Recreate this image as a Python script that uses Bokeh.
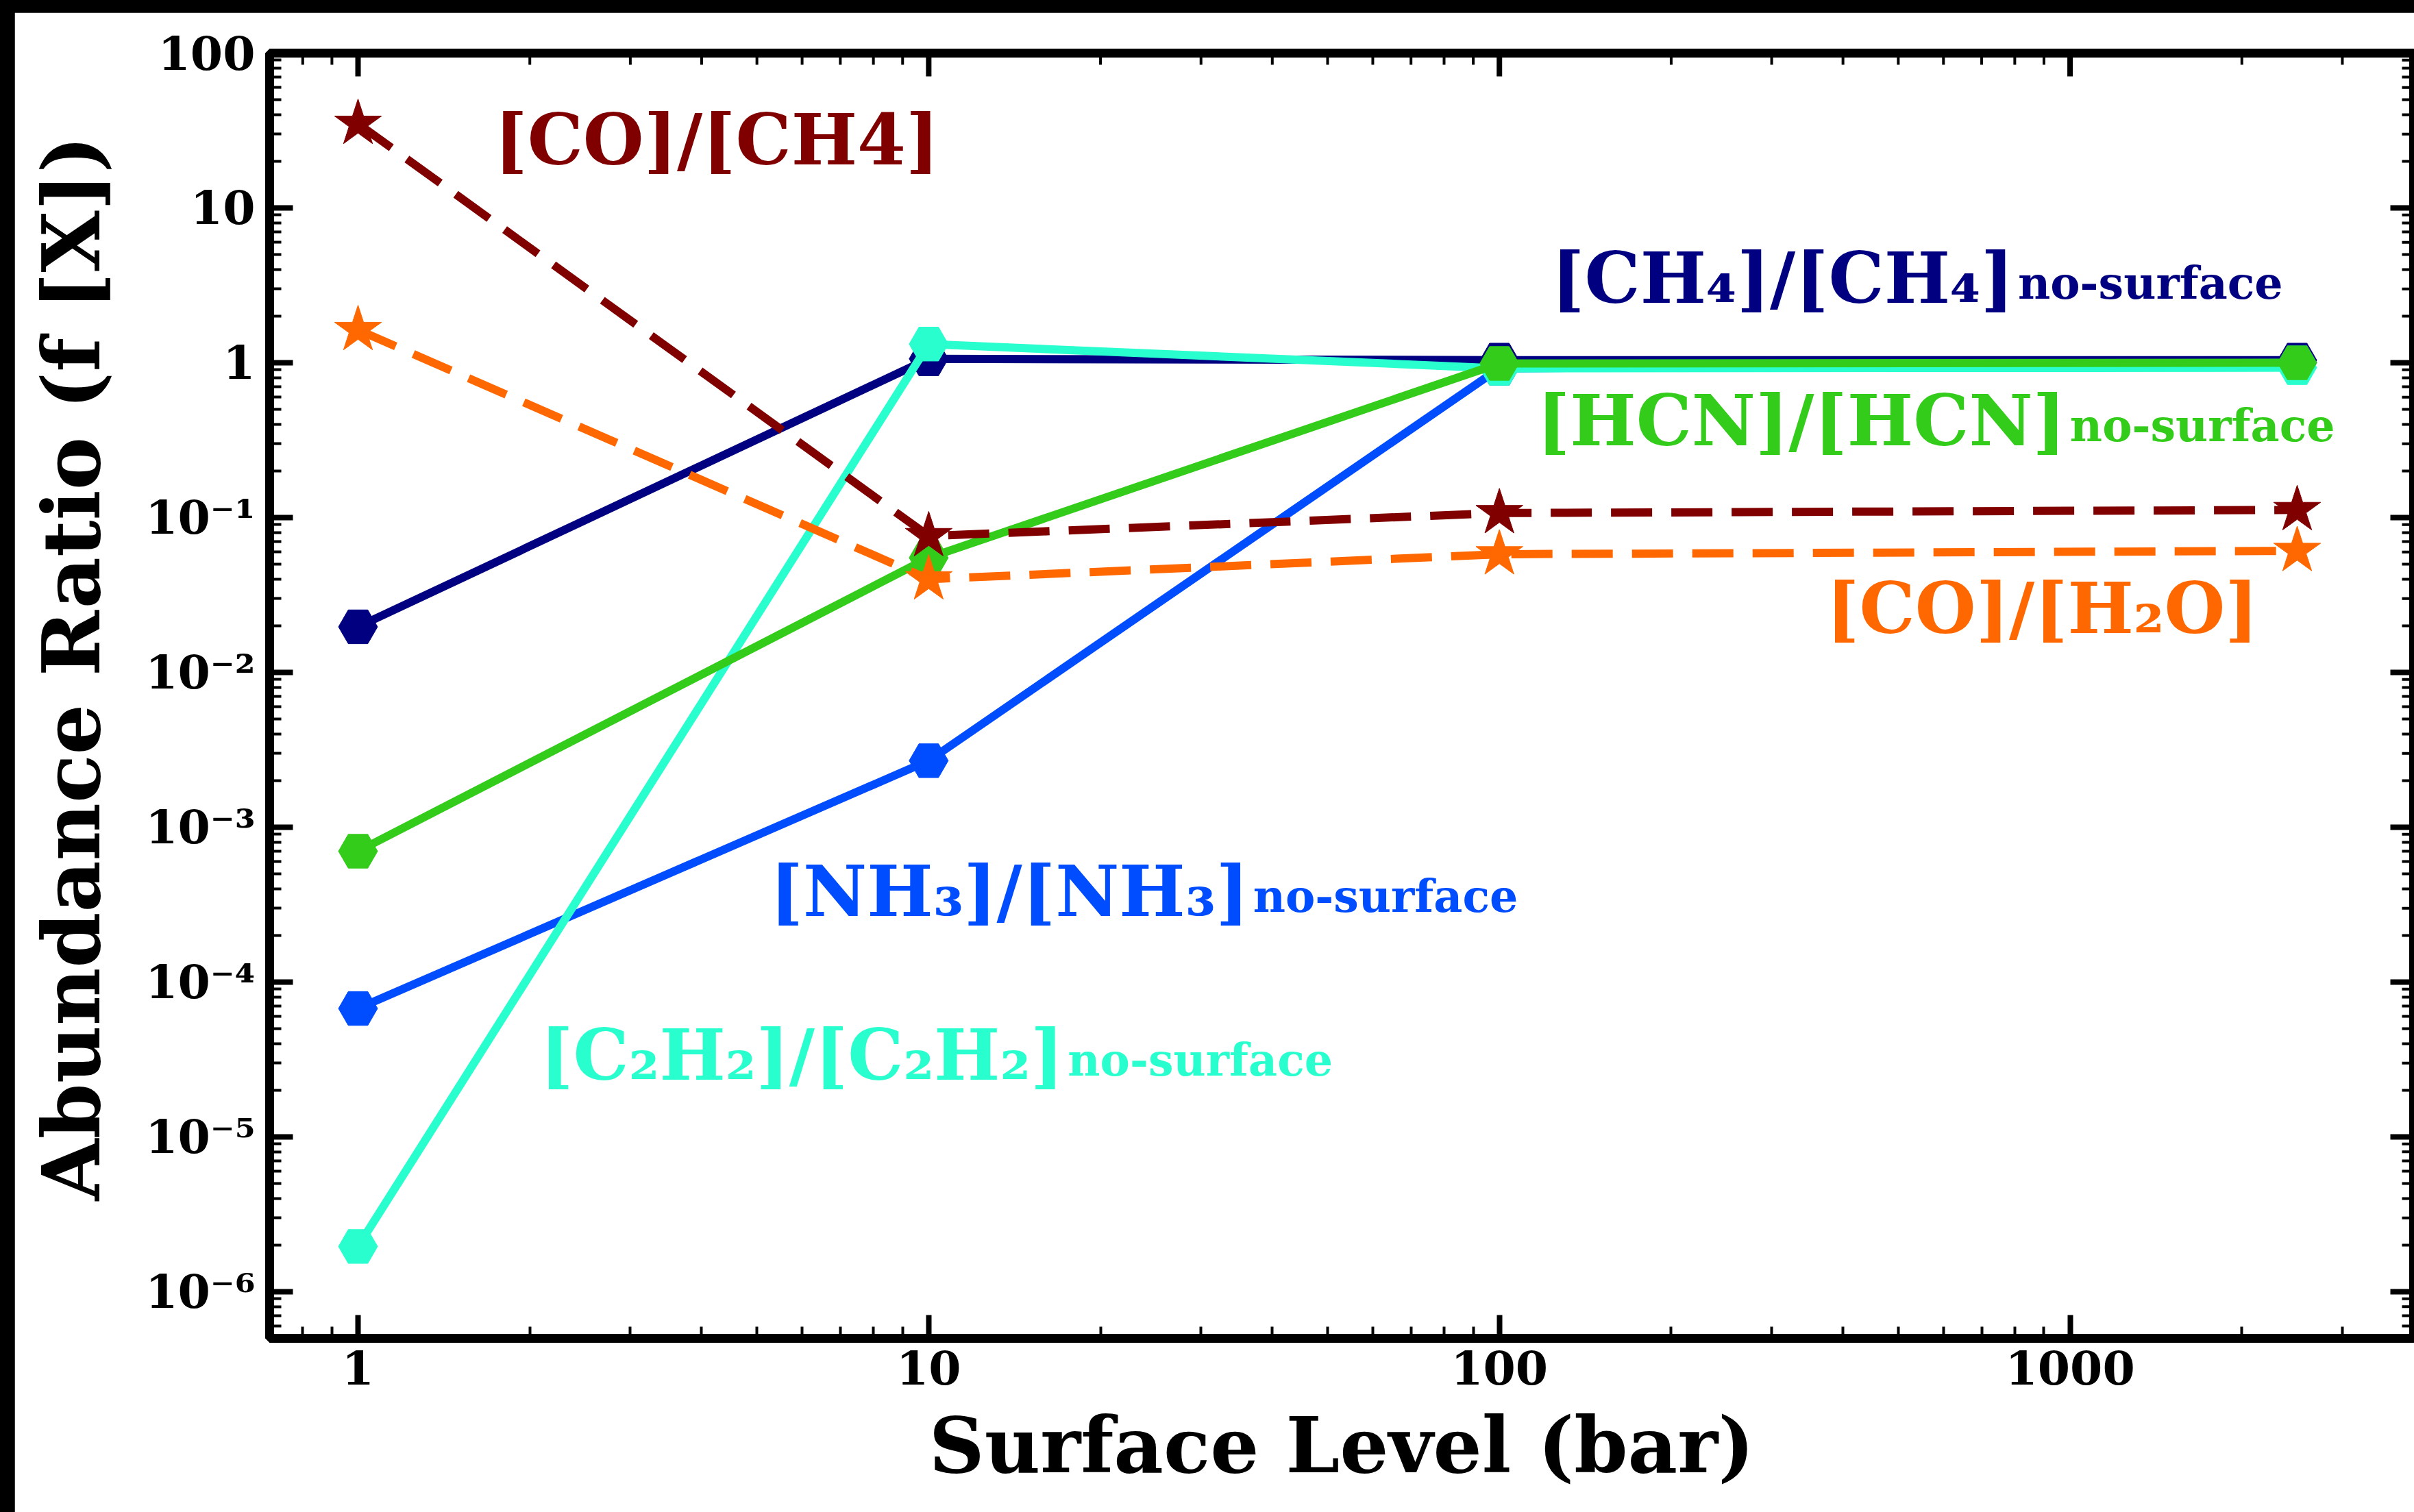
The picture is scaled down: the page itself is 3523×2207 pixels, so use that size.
import numpy as np
from bokeh.plotting import figure
from bokeh.models import FixedTicker, Range1d, Spacer
from bokeh.layouts import column, row
from bokeh.core.properties import value
from bokeh.embed import file_html
from bokeh.resources import INLINE

# ---------------- data ----------------
surface_bar = [1, 10, 100, 2500]

co_ch4 = [35.0, 0.076, 0.107, 0.112]
co_h2o = [1.63, 0.040, 0.058, 0.061]
ch4_ratio = [0.0197, 1.06, 1.04, 1.04]
nh3_ratio = [6.75e-5, 2.69e-3, 0.92, 1.0]
c2h2_ratio = [1.96e-6, 1.32, 0.92, 0.93]
hcn_ratio = [7.0e-4, 0.055, 0.99, 1.0]

x_major = [1, 10, 100, 1000]
x_tick_labels = ["1", "10", "100", "1000"]
y_major = [1e-6, 1e-5, 1e-4, 1e-3, 1e-2, 1e-1, 1, 10, 100]
y_tick_labels = ["10\u207b\u2076", "10\u207b\u2075", "10\u207b\u2074", "10\u207b\u00b3",
                 "10\u207b\u00b2", "10\u207b\u00b9", "1", "10", "100"]

x_title = "Surface Level (bar)"
y_title = "Abundance Ratio (f [X])"

# ---------------- styling ----------------
SERIF = "DejaVu Serif"
NAVY, BLUE, CYAN, GREEN, DKRED, ORANGE = "#000080", "#004cff", "#29ffce", "#33cc1a", "#800000", "#ff6800"

X_LO, X_HI = 0.7, 4000
Y_LO, Y_HI = 5e-7, 100

x_minor = [k * 10.0 ** d for d in range(-1, 4) for k in range(2, 10) if X_LO <= k * 10.0 ** d <= X_HI]
y_minor = [k * 10.0 ** d for d in range(-7, 2) for k in range(2, 10) if Y_LO <= k * 10.0 ** d <= Y_HI]

MAJ_LEN, MIN_LEN = 34, 17
MAJ_W, MIN_W = 8, 4
FRAME_W = 13

p = figure(width=3502, height=2189, x_axis_type="log", y_axis_type="log",
           x_range=Range1d(X_LO, X_HI), y_range=Range1d(Y_LO, Y_HI),
           output_backend="svg", toolbar_location=None,
           min_border_left=372, min_border_right=1, min_border_top=59, min_border_bottom=254,
           background_fill_color="white", border_fill_color="white")
p.grid.visible = False
p.outline_line_color = "black"
p.outline_line_width = FRAME_W

bottom_ax = p.below[0]
left_ax = p.left[0]
bottom_ax.ticker = FixedTicker(ticks=x_major, minor_ticks=x_minor)
left_ax.ticker = FixedTicker(ticks=y_major, minor_ticks=y_minor)

for ax in [bottom_ax, left_ax]:
    ax.axis_line_width = FRAME_W
    ax.axis_line_color = "black"
    ax.major_tick_in = MAJ_LEN
    ax.major_tick_out = 0
    ax.minor_tick_in = MIN_LEN
    ax.minor_tick_out = 0
    ax.major_tick_line_width = MAJ_W
    ax.minor_tick_line_width = MIN_W
    ax.major_tick_line_color = "black"
    ax.minor_tick_line_color = "black"
    ax.major_label_text_font = SERIF
    ax.major_label_text_font_style = "bold"
    ax.major_label_text_font_size = "68px"
    ax.major_label_text_color = "black"
    ax.axis_label_text_font = SERIF
    ax.axis_label_text_font_style = "bold"
    ax.axis_label_text_color = "black"

bottom_ax.axis_label_text_font_size = "112px"
left_ax.axis_label_text_font_size = "116px"
bottom_ax.major_label_overrides = dict(zip(x_major, x_tick_labels))
left_ax.major_label_overrides = dict(zip(y_major, y_tick_labels))
bottom_ax.major_label_standoff = 18
left_ax.major_label_standoff = 21
bottom_ax.axis_label = x_title
# two leading spaces nudge the rotated title slightly upward, as in the original
left_ax.axis_label = "\u00a0\u00a0" + y_title
bottom_ax.axis_label_standoff = 20
left_ax.axis_label_standoff = 37

# mirrored ticks on the top and right frame edges (inward, screen-length rays)
x_maj_in = [v for v in x_major if X_LO <= v <= X_HI]
p.ray(x=x_maj_in, y=[Y_HI] * len(x_maj_in), length=MAJ_LEN, length_units="screen",
      angle=-np.pi / 2, line_color="black", line_width=MAJ_W)
p.ray(x=x_minor, y=[Y_HI] * len(x_minor), length=MIN_LEN, length_units="screen",
      angle=-np.pi / 2, line_color="black", line_width=MIN_W)
p.ray(x=[X_HI] * len(y_major), y=y_major, length=MAJ_LEN, length_units="screen",
      angle=np.pi, line_color="black", line_width=MAJ_W)
p.ray(x=[X_HI] * len(y_minor), y=y_minor, length=MIN_LEN, length_units="screen",
      angle=np.pi, line_color="black", line_width=MIN_W)

# ---------------- series ----------------
LW = 12
series = [
    (ch4_ratio, NAVY, "solid", "hex", 57),
    (nh3_ratio, BLUE, "solid", "hex", 57),
    (c2h2_ratio, CYAN, "solid", "hex", 57),
    (hcn_ratio, GREEN, "solid", "hex", 57),
    (co_ch4, DKRED, "60 28", "star", 72),
    (co_h2o, ORANGE, "60 28", "star", 72),
]
for vals, col, dash, mk, sz in series:
    p.line(surface_bar, vals, line_color=col, line_width=LW, line_dash=dash)
    p.scatter(surface_bar, vals, marker=mk, size=sz, fill_color=col, line_color=col, line_width=1)

# ---------------- labels ----------------
MAIN_FS = "102px"
SUB_FS = "65px"
DY = -34


def label(x, y, txt, col, align="left"):
    p.text(x=[x], y=[y], text=[txt], text_color=col, text_font=value(SERIF),
           text_font_style="bold", text_font_size=MAIN_FS,
           text_baseline="alphabetic", text_align=align, y_offset=DY)


def label_sub(x, y, main, sub, col):
    p.text(x=[x], y=[y], text=[main], text_color=col, text_font=value(SERIF),
           text_font_style="bold", text_font_size=MAIN_FS,
           text_baseline="alphabetic", text_align="right", y_offset=DY)
    p.text(x=[x], y=[y], text=[sub], text_color=col, text_font=value(SERIF),
           text_font_style="bold", text_font_size=SUB_FS,
           text_baseline="alphabetic", text_align="left", x_offset=6, y_offset=DY + 7)


label(1.733, 19.4, "[CO]/[CH4]", DKRED)
label_sub(797, 2.48, "[CH\u2084]/[CH\u2084]", "no-surface", NAVY)
label_sub(983, 0.2976, "[HCN]/[HCN]", "no-surface", GREEN)
label(374, 0.01824, "[CO]/[H\u2082O]", ORANGE)
label_sub(36.4, 2.72e-4, "[NH\u2083]/[NH\u2083]", "no-surface", BLUE)
label_sub(17.24, 2.40e-5, "[C\u2082H\u2082]/[C\u2082H\u2082]", "no-surface", CYAN)

layout = column(Spacer(height=18, width=3523), row(Spacer(width=21, height=2189), p))

html = file_html(layout, INLINE, title="Abundance ratio vs surface level")
html = html.replace("<head>", "<head><style>html,body{margin:0;padding:0;background:#000;}</style>", 1)
open("out.html", "w").write(html)
